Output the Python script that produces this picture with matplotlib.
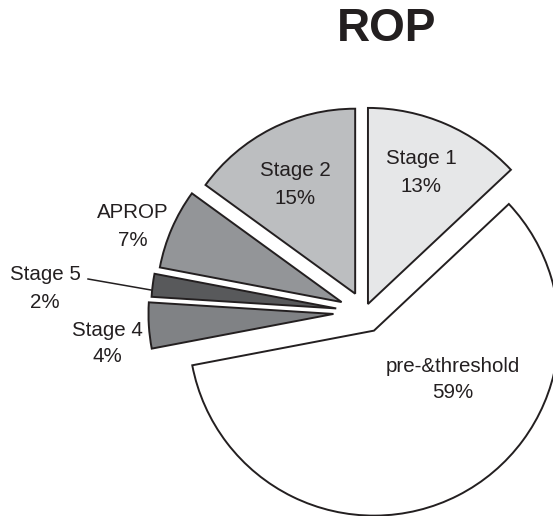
import matplotlib
matplotlib.use("Agg")
import matplotlib.pyplot as plt

plt.rcParams['font.family'] = ['Liberation Sans', 'DejaVu Sans']

# Data
categories = ["Stage 1", "pre-&threshold", "Stage 4", "Stage 5", "APROP", "Stage 2"]
values = [13, 59, 4, 2, 7, 15]
colors = ["#e6e7e8", "#ffffff", "#808285", "#58595b", "#939598", "#bcbec0"]
explode = [0.047, 0.113, 0.168, 0.154, 0.135, 0.111]

W, H = 553, 516
fig = plt.figure(figsize=(W / 100, H / 100), dpi=100)
ax = fig.add_axes([0, 0, 1, 1])

# pixel scale of one pie radius and pixel position of the pie centre
scale = 185.0
cx, cy = 364.5, 312.0


def px(x, y):
    """Convert figure pixel position (from top-left) to data coordinates."""
    return (x - cx) / scale, (cy - y) / scale


wedges, _ = ax.pie(values, colors=colors, explode=explode, startangle=90,
                   counterclock=False,
                   wedgeprops=dict(edgecolor="#231f20", linewidth=1.4))
wedges[0].set_radius(1.06)

ax.set_xlim(-cx / scale, (W - cx) / scale)
ax.set_ylim(-(H - cy) / scale, cy / scale)
ax.set_aspect('auto')
ax.axis('off')

# Labels
label_pos = {
    "Stage 1": (421, 159, 186),
    "pre-&threshold": (453, 367, 393),
    "Stage 4": (107, 330, 357),
    "Stage 5": (45, 275, 302),
    "APROP": (133, 212, 240),
    "Stage 2": (295, 171, 198),
}
fs = 14.8
for name, v in zip(categories, values):
    x, y1, y2 = label_pos[name]
    ax.text(*px(x, y1), name, ha='center', va='center', fontsize=fs, color="#231f20")
    ax.text(*px(x, y2), f"{v}%", ha='center', va='center', fontsize=fs, color="#231f20")

# leader line for Stage 5
x0, y0 = px(88, 279)
x1, y1 = px(151, 290)
ax.plot([x0, x1], [y0, y1], color="#231f20", linewidth=1.1)

# title
ax.text(*px(387, 29), "ROP", ha='center', va='center', fontsize=33,
        fontweight='bold', color="#231f20")

fig.savefig("out.png", dpi=100)
